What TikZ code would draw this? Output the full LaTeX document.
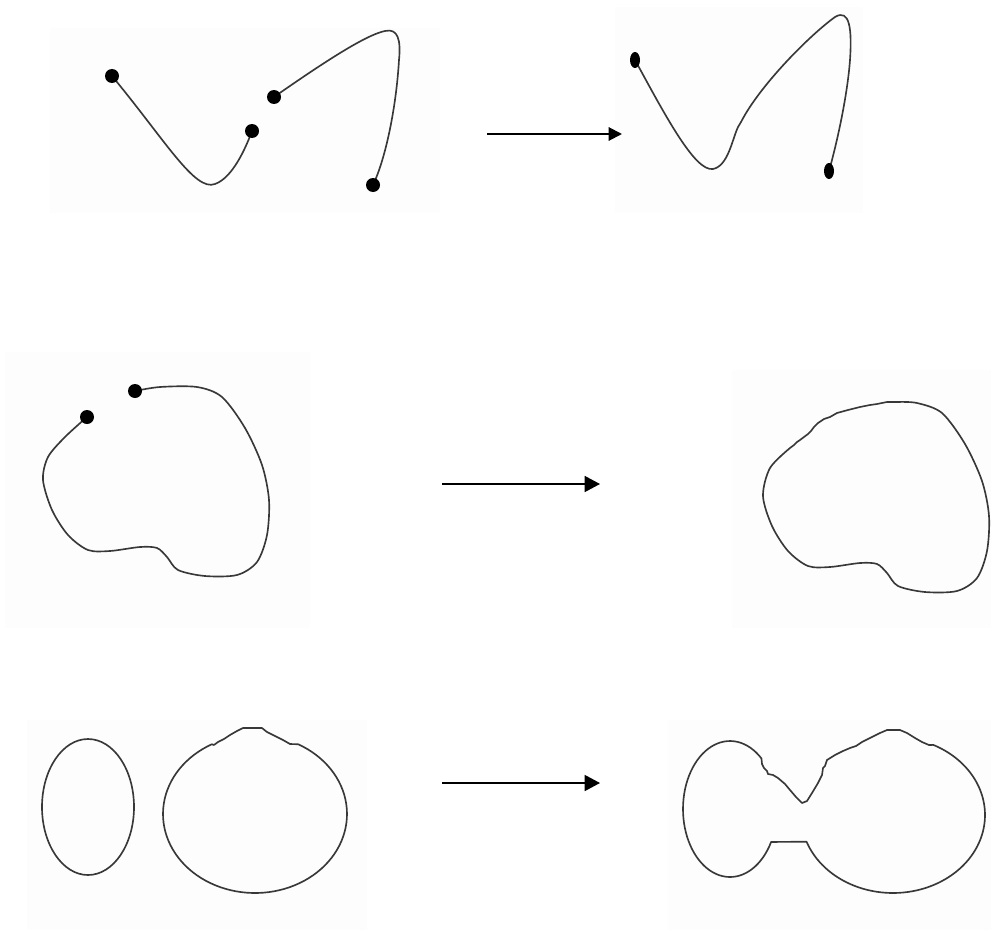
\documentclass[tikz,border=0pt]{standalone}
\usepackage{tikz}
\usetikzlibrary{arrows.meta,shapes.geometric}

\begin{document}
\begin{tikzpicture}[
  x=0.03cm, y=-0.03cm,
  curve/.style={draw=black!78, line width=1.4pt, line join=round},
  dot/.style={circle, fill=black, inner sep=0pt, minimum size=4.2mm},
  talldot/.style={ellipse, fill=black, inner sep=0pt, minimum width=3mm, minimum height=4.8mm},
  panel/.style={fill=black!0.6, draw=none},
  step arrow/.style={line width=1.7pt, -{Triangle[length=4mm, width=4mm]}},
  thin arrow/.style={line width=1.3pt, -{Triangle[length=4.6mm, width=4.8mm]}}
]
\useasboundingbox (0,0) rectangle (991,930);

% faint backgrounds of the six pictures
\fill[panel] (50,28) rectangle (440,213);
\fill[panel] (615,7) rectangle (863,213);
\fill[panel] (5,352) rectangle (310,628);
\fill[panel] (732,370) rectangle (991,628);
\fill[panel] (27,720) rectangle (367,930);
\fill[panel] (668,720) rectangle (991,930);

% end points
\coordinate (p1) at (112,76);
\coordinate (p2) at (252,131);
\coordinate (p3) at (274,97);
\coordinate (p4) at (373,185);
\coordinate (p5) at (635,60);
\coordinate (p6) at (829,171);
\coordinate (q1) at (87,417);
\coordinate (q2) at (135,391);

% row 1: two open curves, then joined
\draw[curve] (p1) .. controls (165,140) and (195,192) .. (215,184)
  .. controls (232,178) and (245,150) .. (p2);
\draw[curve] (p3) .. controls (320,65) and (365,35) .. (385,31)
  .. controls (398,28) and (401,40) .. (399,60)
  .. controls (396,110) and (385,160) .. (p4);
\draw[curve] (p5) .. controls (665,115) and (695,172) .. (713,169)
  .. controls (728,166) and (732,140) .. (738,127)
  -- (741,122) .. controls (760,85) and (810,35) .. (835,17)
  .. controls (850,8) and (852,30) .. (850,60)
  .. controls (847,100) and (835,150) .. (p6);

% row 2: open loop, then closed
\draw[curve] plot[smooth] coordinates {(q2) (160,387) (197,387) (222,397) (245,428)
  (262,465) (269,500) (267,535) (257,562) (237,575) (205,576) (178,570) (167,557)
  (157,548) (140,547) (110,551) (88,550) (68,535) (52,510) (43,480) (48,457)
  (65,437) (q1)};
\begin{scope}[shift={(720,16)}]
\draw[curve] plot[smooth] coordinates {(177,386) (197,387) (222,397) (245,428)
  (262,465) (269,500) (267,535) (257,562) (237,575) (205,576) (178,570) (167,557)
  (157,548) (140,547) (110,551) (88,550) (68,535) (52,510) (43,480) (50,452)
  (70,432)}
  -- (74,429) -- (77,426) -- (80,424) -- (84,421) -- (88,418) -- (91,415) -- (94,411)
  -- (98,407) -- (104,403) -- (110,401) -- (117,397) -- (128,394) -- (140,391)
  -- (150,389) -- (157,388) -- (167,386) -- cycle;
\end{scope}

% row 3: ellipse and round shape, then merged
\draw[curve] (88,807) ellipse [x radius=46, y radius=68];
\draw[curve] plot[domain=298:602, samples=90] ({255+92*cos(\x)},{814+79*sin(\x)})
  -- (214,745) -- (218,742) -- (224,739) -- (230,735) -- (237,731) -- (243,728)
  -- (262,728) -- (267,732) -- (275,736) -- (283,740) -- (290,744) -- cycle;
\draw[curve] plot[domain=29:312, samples=70] ({730+47*cos(\x)},{809+68*sin(\x)})
  -- (762,764) -- (764,768) -- (767,771) -- (768,774) -- (773,775) -- (778,778)
  -- (785,784) -- (790,790) -- (796,797) -- (802,803) -- (807,801) -- (812,793)
  -- (818,783) -- (822,775) -- (823,768) -- (825,766) -- (827,760) -- (835,755)
  -- (843,751) -- (850,748) -- (856,746) -- (862,742) -- (870,738) -- (880,733)
  -- (887,730) -- (900,730) -- (907,733) -- (915,738) -- (922,742) -- (929,745)
  -- plot[domain=296:520, samples=80] ({893+92*cos(\x)},{815+78*sin(\x)})
  -- cycle;

% end dots
\foreach \p in {p1,p2,p3,p4,q1,q2}
  \node[dot] (dot-\p) at (\p) {};
\node[talldot] (dot-p5) at (p5) {};
\node[talldot] (dot-p6) at (p6) {};

% arrows
\coordinate (s1) at (487,134);
\coordinate (e1) at (622,134);
\coordinate (s2) at (442,484);
\coordinate (e2) at (600,484);
\coordinate (s3) at (442,783);
\coordinate (e3) at (600,783);
\draw[step arrow] (s1) -- (e1);
\draw[thin arrow] (s2) -- (e2);
\draw[thin arrow] (s3) -- (e3);

\end{tikzpicture}
\end{document}
